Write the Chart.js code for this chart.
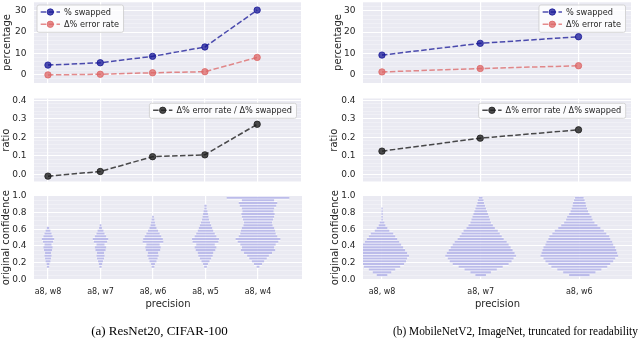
<!DOCTYPE html>
<html><head><meta charset="utf-8">
<script src="https://cdn.jsdelivr.net/npm/chart.js@4.4.1/dist/chart.umd.min.js"></script>
<style>
html,body{margin:0;padding:0;background:#fff;}
body{width:640px;height:342px;position:relative;overflow:hidden;}
canvas{position:absolute;}
.cap{position:absolute;font-family:"Liberation Serif","Times New Roman",serif;font-size:13px;line-height:15px;color:#000;white-space:nowrap;top:322.5px;}
</style></head><body>
<canvas id="a1" width="306" height="109" style="left:0px;top:-12px"></canvas>
<canvas id="a2" width="306" height="112" style="left:0px;top:84px"></canvas>
<canvas id="a3" width="306" height="136" style="left:0px;top:182px"></canvas>
<canvas id="b1" width="316" height="109" style="left:320px;top:-12px"></canvas>
<canvas id="b2" width="316" height="112" style="left:320px;top:84px"></canvas>
<canvas id="b3" width="316" height="136" style="left:320px;top:182px"></canvas>
<div class="cap" style="left:0px;width:319px;text-align:center">(a) ResNet20, CIFAR-100</div>
<div class="cap" style="left:393px;transform:scaleX(0.873);transform-origin:0 0;">(b) MobileNetV2, ImageNet, truncated for readability</div>
<script>
// ---------------- data ----------------
const catsA = ['a8, w8', 'a8, w7', 'a8, w6', 'a8, w5', 'a8, w4'];
const swappedA = [4.5, 5.6, 8.6, 13.0, 30.3];
const errRateA = [-0.1, 0.2, 0.9, 1.4, 8.1];
const ratioA = [-0.01, 0.015, 0.095, 0.105, 0.27];

const catsB = ['a8, w8', 'a8, w7', 'a8, w6'];
const swappedB = [9.2, 14.7, 17.8];
const errRateB = [1.3, 2.9, 4.2];
const ratioB = [0.125, 0.195, 0.24];

const seriesLabels = ['% swapped', '\u0394% error rate', '\u0394% error rate / \u0394% swapped'];

// confidence levels (y) and half-widths (in category units) of the stacked strips
const confLevels = [0.017, 0.05, 0.083, 0.117, 0.15, 0.183, 0.217, 0.25, 0.283, 0.317,
                    0.35, 0.383, 0.417, 0.45, 0.483, 0.517, 0.55, 0.583, 0.617, 0.65,
                    0.683, 0.717, 0.75, 0.783, 0.817, 0.85, 0.883, 0.917, 0.95, 0.978];
const confA_w8 = [0,0,0,0,0.015,0.02,0.04,0.05,0.06,0.05,0.07,0.08,0.06,0.09,0.11,0.08,0.06,0.04,0.015,0,0,0,0,0,0,0,0,0,0,0];
const confA_w7 = [0,0,0,0,0.015,0.025,0.04,0.06,0.07,0.06,0.09,0.1,0.07,0.12,0.14,0.1,0.07,0.05,0.02,0.01,0,0,0,0,0,0,0,0,0,0];
const confA_w6 = [0,0,0,0,0.02,0.03,0.06,0.08,0.1,0.09,0.13,0.14,0.12,0.19,0.18,0.15,0.12,0.09,0.06,0.04,0.03,0.02,0.01,0,0,0,0,0,0,0];
const confA_w5 = [0,0,0,0,0.02,0.04,0.07,0.1,0.13,0.14,0.18,0.2,0.17,0.24,0.25,0.2,0.17,0.14,0.12,0.1,0.08,0.06,0.05,0.04,0.03,0.015,0.015,0,0,0];
const confA_w4 = [0,0,0,0,0.02,0.07,0.11,0.16,0.2,0.26,0.32,0.3,0.33,0.38,0.42,0.36,0.33,0.32,0.3,0.27,0.26,0.28,0.3,0.31,0.29,0.3,0.34,0.36,0.3,0.59];
const confB_w8 = [0,0.05,0.09,0.13,0.18,0.22,0.24,0.25,0.27,0.25,0.23,0.21,0.19,0.17,0.15,0.13,0.11,0.07,0.05,0.03,0.02,0.004,0.004,0.003,0.003,0.003,0,0,0,0];
const confB_w7 = [0,0.05,0.1,0.16,0.22,0.28,0.31,0.33,0.355,0.34,0.32,0.3,0.28,0.26,0.23,0.21,0.19,0.17,0.14,0.12,0.1,0.09,0.08,0.07,0.06,0.05,0.04,0.03,0.025,0.015];
const confB_w6 = [0,0.1,0.16,0.22,0.28,0.31,0.34,0.36,0.39,0.38,0.37,0.36,0.34,0.33,0.31,0.3,0.27,0.245,0.21,0.18,0.15,0.13,0.12,0.1,0.085,0.075,0.065,0.06,0.05,0.04];

const pctTickFmt = v => String(Math.round(v));
const decTickFmt = v => v.toFixed(1);

// ---------------- styles ----------------
const BLUE = 'rgba(20,20,150,0.75)';
const RED = 'rgba(220,100,100,0.75)';
const BLACK = 'rgba(30,30,30,0.8)';
const STRIP = 'rgba(125,125,215,0.5)';
const HALO = 'rgba(255,255,255,0.75)';
const TXT = '#262626';

Chart.defaults.font.family = '"DejaVu Sans", sans-serif';
Chart.defaults.color = TXT;
Chart.defaults.animation = false;

const bgPlugin = {
  id: 'bgfill',
  beforeDraw(chart) {
    const {ctx, chartArea: a} = chart;
    ctx.save();
    ctx.fillStyle = '#eaeaf2';
    ctx.fillRect(a.left, a.top, a.right - a.left, a.bottom - a.top);
    ctx.restore();
  }
};

function makeLegend(cfg) {
  return {
    id: 'boxLegend',
    afterDraw(chart) {
      const ctx = chart.ctx, a = chart.chartArea;
      ctx.save();
      ctx.font = cfg.size + 'px "DejaVu Sans"';
      const tw = Math.max(...cfg.items.map(it => ctx.measureText(it.label).width));
      const w = 27 + tw + 4.5;
      const h = cfg.items.length * 12.3 + 2.7;
      const x = cfg.align === 'left' ? a.left + cfg.dx : a.right - cfg.dx - w;
      const y = a.top + cfg.dy;
      ctx.beginPath();
      ctx.roundRect(x, y, w, h, 2);
      ctx.fillStyle = 'rgba(255,255,255,0.8)';
      ctx.fill();
      ctx.lineWidth = 0.8;
      ctx.strokeStyle = '#cccccc';
      ctx.stroke();
      cfg.items.forEach((it, i) => {
        const cy = y + 7 + i * 12.3;
        ctx.beginPath();
        ctx.setLineDash([5.5, 2.4]);
        ctx.lineWidth = 1.5;
        ctx.strokeStyle = it.color;
        ctx.moveTo(x + 3.7, cy);
        ctx.lineTo(x + 23, cy);
        ctx.stroke();
        ctx.setLineDash([]);
        ctx.beginPath();
        ctx.arc(x + 13.3, cy, 3.2, 0, Math.PI * 2);
        ctx.fillStyle = it.color;
        ctx.fill();
        ctx.lineWidth = 1;
        ctx.stroke();
        ctx.fillStyle = TXT;
        ctx.textBaseline = 'middle';
        ctx.textAlign = 'left';
        ctx.fillText(it.label, x + 27, cy + 0.5);
      });
      ctx.restore();
    }
  };
}

const isMajor = (v, m) => Math.abs(v / m - Math.round(v / m)) < 1e-6;

function yScale(o) {
  return {
    type: 'linear', min: o.min, max: o.max, offset: false,
    border: {display: false},
    grid: {
      drawTicks: false, offset: false,
      color: c => (c.tick && isMajor(c.tick.value, o.major)) ? '#ffffff' : 'rgba(255,255,255,0.6)',
      lineWidth: c => (c.tick && isMajor(c.tick.value, o.major)) ? 1.1 : 0.5
    },
    afterBuildTicks: s => {
      const t = [];
      const n0 = Math.ceil(o.min / o.minor - 1e-9), n1 = Math.floor(o.max / o.minor + 1e-9);
      for (let n = n0; n <= n1; n++) t.push({value: Math.round(n * o.minor * 1e6) / 1e6});
      s.ticks = t;
    },
    ticks: {
      autoSkip: false, padding: 7.5,
      font: {size: 9}, color: TXT,
      callback: v => isMajor(v, o.major) ? o.fmt(v) : ''
    },
    title: {display: true, text: o.title, font: {size: 10}, color: TXT, padding: {top: o.tpad, bottom: 0}},
    afterFit: s => { s.width = o.width; }
  };
}

function xScale(o) {
  return {
    type: 'linear', min: o.min, max: o.max, offset: false,
    border: {display: false},
    grid: {drawTicks: false, offset: false, color: '#ffffff', lineWidth: 1.2},
    afterBuildTicks: s => { s.ticks = o.cats.map((_, i) => ({value: i})); },
    ticks: {
      display: o.labels, autoSkip: false, maxRotation: 0, minRotation: 0, padding: 8,
      font: {size: 8}, color: TXT,
      callback: v => o.cats[v]
    },
    title: {display: o.labels, text: 'precision', font: {size: 10}, color: TXT, padding: {top: 0, bottom: 8}},
    afterFit: s => { s.height = o.height; }
  };
}

function lineDataset(label, values, color) {
  return {
    label: label,
    data: values.map((v, i) => ({x: i, y: v})),
    borderColor: color, backgroundColor: color,
    pointBackgroundColor: color, pointBorderColor: color,
    pointRadius: 3.2, pointBorderWidth: 1, borderWidth: 1.5,
    borderDash: [5.5, 2.4], tension: 0, fill: false
  };
}

function lineChart(id, datasets, xo, yo, legendCfg, pad) {
  new Chart(document.getElementById(id), {
    type: 'line',
    data: {datasets: datasets},
    options: {
      responsive: false, animation: false,
      layout: {padding: pad},
      scales: {x: xScale(xo), y: yScale(yo)},
      plugins: {legend: {display: false}, tooltip: {enabled: false}}
    },
    plugins: [bgPlugin, makeLegend(legendCfg)]
  });
}

function stripData(widthsPerCat) {
  const out = [];
  widthsPerCat.forEach((hw, i) => hw.forEach((w, k) => {
    if (w > 0) out.push({y: confLevels[k], x: [i - w, i + w]});
  }));
  return out;
}

function violinChart(id, widthsPerCat, xo, yo, pad) {
  const d = stripData(widthsPerCat);
  new Chart(document.getElementById(id), {
    type: 'bar',
    data: {datasets: [
      {data: d, backgroundColor: STRIP, barThickness: 1.4, grouped: false, order: 0, borderWidth: 0},
      {data: d, backgroundColor: HALO, barThickness: 3.2, grouped: false, order: 1, borderWidth: 0}
    ]},
    options: {
      indexAxis: 'y', responsive: false, animation: false,
      layout: {padding: pad},
      scales: {x: xScale(xo), y: yScale(yo)},
      plugins: {legend: {display: false}, tooltip: {enabled: false}}
    },
    plugins: [bgPlugin]
  });
}

// ---------------- column (a) ----------------
const xA = {min: -0.267, max: 4.838, cats: catsA};
lineChart('a1',
  [lineDataset(seriesLabels[0], swappedA, BLUE), lineDataset(seriesLabels[1], errRateA, RED)],
  Object.assign({labels: false, height: 0}, xA),
  {min: -3.9, max: 34.1, major: 10, minor: 2, fmt: pctTickFmt, title: 'percentage', tpad: 1.3, width: 34},
  {align: 'left', dx: 3, dy: 3, size: 8.2, items: [{label: seriesLabels[0], color: BLUE}, {label: seriesLabels[1], color: RED}]},
  {top: 14, bottom: 14, left: 0, right: 4});
lineChart('a2',
  [lineDataset(seriesLabels[2], ratioA, BLACK)],
  Object.assign({labels: false, height: 0}, xA),
  {min: -0.04, max: 0.409, major: 0.1, minor: 0.02, fmt: decTickFmt, title: 'ratio', tpad: 0.5, width: 34},
  {align: 'right', dx: 4.5, dy: 4.8, size: 8.2, items: [{label: seriesLabels[2], color: BLACK}]},
  {top: 14.5, bottom: 14.3, left: 0, right: 4});
violinChart('a3', [confA_w8, confA_w7, confA_w6, confA_w5, confA_w4],
  Object.assign({labels: true, height: 38.7}, xA),
  {min: 0, max: 1, major: 0.2, minor: 0.05, fmt: decTickFmt, title: 'original confidence', tpad: 0, width: 34},
  {top: 14, bottom: 0, left: 0, right: 4});

// ---------------- column (b) ----------------
const xB = {min: -0.193, max: 2.534, cats: catsB};
lineChart('b1',
  [lineDataset(seriesLabels[0], swappedB, BLUE), lineDataset(seriesLabels[1], errRateB, RED)],
  Object.assign({labels: false, height: 0}, xB),
  {min: -3.9, max: 34.1, major: 10, minor: 2, fmt: pctTickFmt, title: 'percentage', tpad: 12.3, width: 43},
  {align: 'right', dx: 5.5, dy: 3, size: 8.2, items: [{label: seriesLabels[0], color: BLUE}, {label: seriesLabels[1], color: RED}]},
  {top: 14, bottom: 14, left: 0, right: 4});
lineChart('b2',
  [lineDataset(seriesLabels[2], ratioB, BLACK)],
  Object.assign({labels: false, height: 0}, xB),
  {min: -0.04, max: 0.409, major: 0.1, minor: 0.02, fmt: decTickFmt, title: 'ratio', tpad: 8, width: 43},
  {align: 'right', dx: 5.3, dy: 4.8, size: 8.2, items: [{label: seriesLabels[2], color: BLACK}]},
  {top: 14.5, bottom: 14.3, left: 0, right: 4});
violinChart('b3', [confB_w8, confB_w7, confB_w6],
  Object.assign({labels: true, height: 38.7}, xB),
  {min: 0, max: 1, major: 0.2, minor: 0.05, fmt: decTickFmt, title: 'original confidence', tpad: 9, width: 43},
  {top: 14, bottom: 0, left: 0, right: 4});
</script>
</body></html>
